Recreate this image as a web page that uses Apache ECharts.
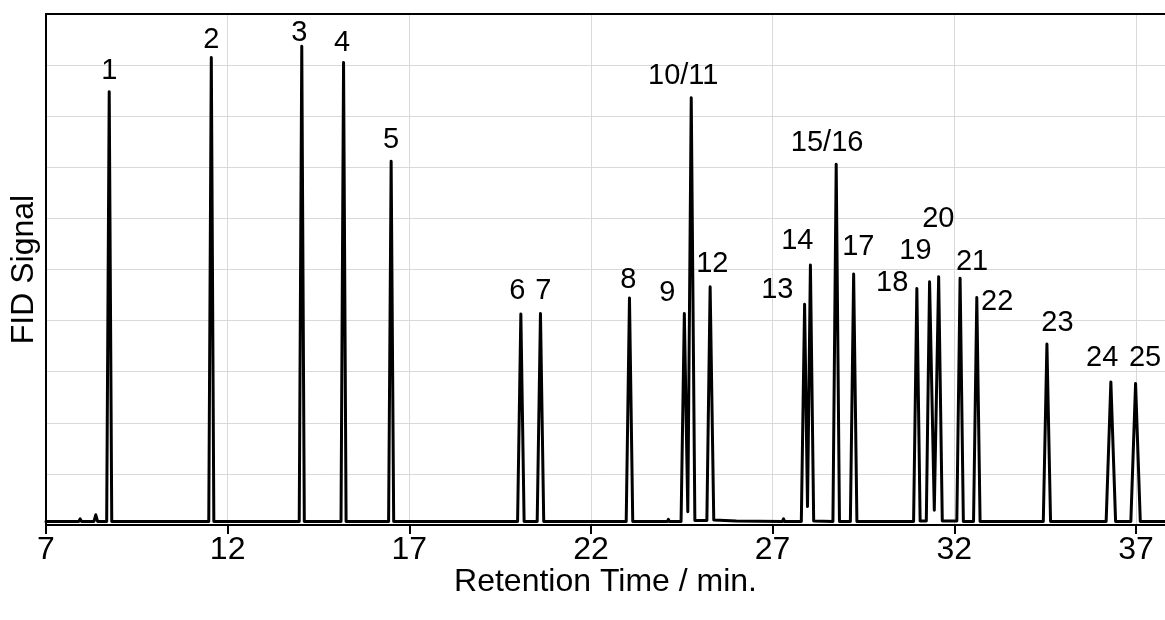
<!DOCTYPE html>
<html>
<head>
<meta charset="utf-8">
<script src="https://cdn.jsdelivr.net/npm/echarts@6/dist/echarts.min.js"></script>
<style>html,body{margin:0;padding:0;background:#fff;}#c{width:1165px;height:620px;}</style>
</head>
<body>
<div id="c"></div>
<script>
// Chromatogram trace: retention time (min) and FID signal (arb. units)
var traceTime = [7.00, 7.90, 7.94, 7.98, 8.32, 8.37, 8.42, 8.67, 8.74, 8.81, 9.78, 9.81, 9.84,
  11.48, 11.55, 11.62, 12.77, 12.80, 12.83, 13.97, 14.04, 14.11, 15.12, 15.19, 15.26,
  16.43, 16.50, 16.57, 19.98, 20.07, 20.16, 20.52, 20.61, 20.70, 22.97, 23.06, 23.15,
  24.10, 24.13, 24.16, 24.48, 24.57, 24.665, 24.76, 24.86, 25.19, 25.28, 25.38, 26.00,
  27.27, 27.30, 27.33, 27.79, 27.88, 27.96, 28.04, 28.13, 28.66, 28.75, 28.84,
  29.14, 29.23, 29.32, 30.88, 30.97, 31.06, 31.23, 31.32, 31.45, 31.57, 31.67,
  32.07, 32.16, 32.25, 32.53, 32.62, 32.71, 34.45, 34.55, 34.65, 36.18, 36.31, 36.44,
  36.86, 36.99, 37.12, 37.80];
var traceSignal = [0.07, 0.07, 0.12, 0.07, 0.07, 0.20, 0.07, 0.07, 8.48, 0.07, 0.07, 0.10, 0.07,
  0.07, 9.15, 0.07, 0.07, 0.10, 0.07, 0.07, 9.37, 0.07, 0.07, 9.05, 0.07,
  0.07, 7.12, 0.07, 0.07, 4.13, 0.07, 0.07, 4.14, 0.07, 0.07, 4.44, 0.07,
  0.07, 0.11, 0.07, 0.07, 4.14, 0.26, 8.36, 0.09, 0.09, 4.66, 0.10, 0.08,
  0.07, 0.12, 0.07, 0.07, 4.32, 0.36, 5.09, 0.08, 0.07, 7.06, 0.07,
  0.07, 4.91, 0.07, 0.07, 4.63, 0.08, 0.08, 4.76, 0.29, 4.86, 0.08,
  0.08, 4.83, 0.07, 0.07, 4.45, 0.07, 0.07, 3.54, 0.07, 0.07, 2.80, 0.07,
  0.07, 2.77, 0.07, 0.07];

// Peak annotations
var peakLabels = ['1','2','3','4','5','6','7','8','9','10/11','12','13','14','15/16','17','18','19','20','21','22','23','24','25'];
var labelTime = [8.74, 11.55, 13.97, 15.15, 16.50, 19.97, 20.69, 23.03, 24.10, 24.54, 25.34, 27.13, 27.68, 28.50, 29.36, 30.29, 30.93, 31.56, 32.49, 33.18, 34.84, 36.07, 37.25];
var labelSignal = [8.88, 9.49, 9.63, 9.43, 7.53, 4.58, 4.58, 4.79, 4.54, 8.79, 5.11, 4.60, 5.56, 7.48, 5.44, 4.74, 5.36, 5.99, 5.15, 4.36, 3.95, 3.27, 3.27];

// Axis ticks
var xMin = 7, xMax = 37.8, xStep = 5;
var yMin = 0, yMax = 10, yStep = 1;

var trace = traceTime.map(function (t, i) { return [t, traceSignal[i]]; });
var labels = peakLabels.map(function (s, i) { return [labelTime[i], labelSignal[i], s]; });

var FONT = '"Liberation Sans", Arial, sans-serif';
var chart = echarts.init(document.getElementById('c'), null, {renderer: 'canvas'});
chart.setOption({
  animation: false,
  backgroundColor: '#ffffff',
  grid: {left: 46, right: 0, top: 14, bottom: 95, containLabel: false},
  xAxis: [{
    type: 'value', min: xMin, max: xMax, interval: xStep,
    name: 'Retention Time / min.', nameLocation: 'middle', nameGap: 41, nameMoveOverlap: false,
    nameTextStyle: {fontFamily: FONT, fontSize: 32, color: '#000'},
    axisLine: {show: true, onZero: false, lineStyle: {color: '#000', width: 2}},
    axisTick: {show: true, inside: false, length: 9, lineStyle: {color: '#000', width: 2}},
    axisLabel: {fontFamily: FONT, fontSize: 32, color: '#000', margin: 9, showMaxLabel: false},
    splitLine: {show: true, lineStyle: {color: '#d9d9d9', width: 1}}
  }, {
    type: 'value', position: 'top', min: xMin, max: xMax, interval: xStep,
    axisLine: {show: true, onZero: false, lineStyle: {color: '#000', width: 2}},
    axisTick: {show: false}, axisLabel: {show: false}, splitLine: {show: false}
  }],
  yAxis: {
    type: 'value', min: yMin, max: yMax, interval: yStep,
    name: 'FID Signal', nameLocation: 'middle', nameGap: 6, nameMoveOverlap: false,
    nameTextStyle: {fontFamily: FONT, fontSize: 32, color: '#000'},
    axisLine: {show: true, onZero: false, lineStyle: {color: '#000', width: 2}},
    axisTick: {show: false}, axisLabel: {show: false},
    splitLine: {show: true, lineStyle: {color: '#d9d9d9', width: 1}}
  },
  series: [{
    type: 'line', data: trace, showSymbol: false, symbol: 'none', smooth: false,
    sampling: null, clip: true,
    lineStyle: {color: '#000', width: 3, join: 'round', cap: 'round'}
  }, {
    type: 'scatter', data: labels, symbolSize: 0, itemStyle: {color: 'rgba(0,0,0,0)'},
    encode: {x: 0, y: 1}, silent: true,
    label: {show: true, position: [0, 0], align: 'center', verticalAlign: 'middle',
      formatter: function (p) { return p.value[2]; },
      fontFamily: FONT, fontSize: 29, color: '#000', opacity: 1},
    labelLayout: {hideOverlap: false},
    z: 5
  }]
});
</script>
</body>
</html>
